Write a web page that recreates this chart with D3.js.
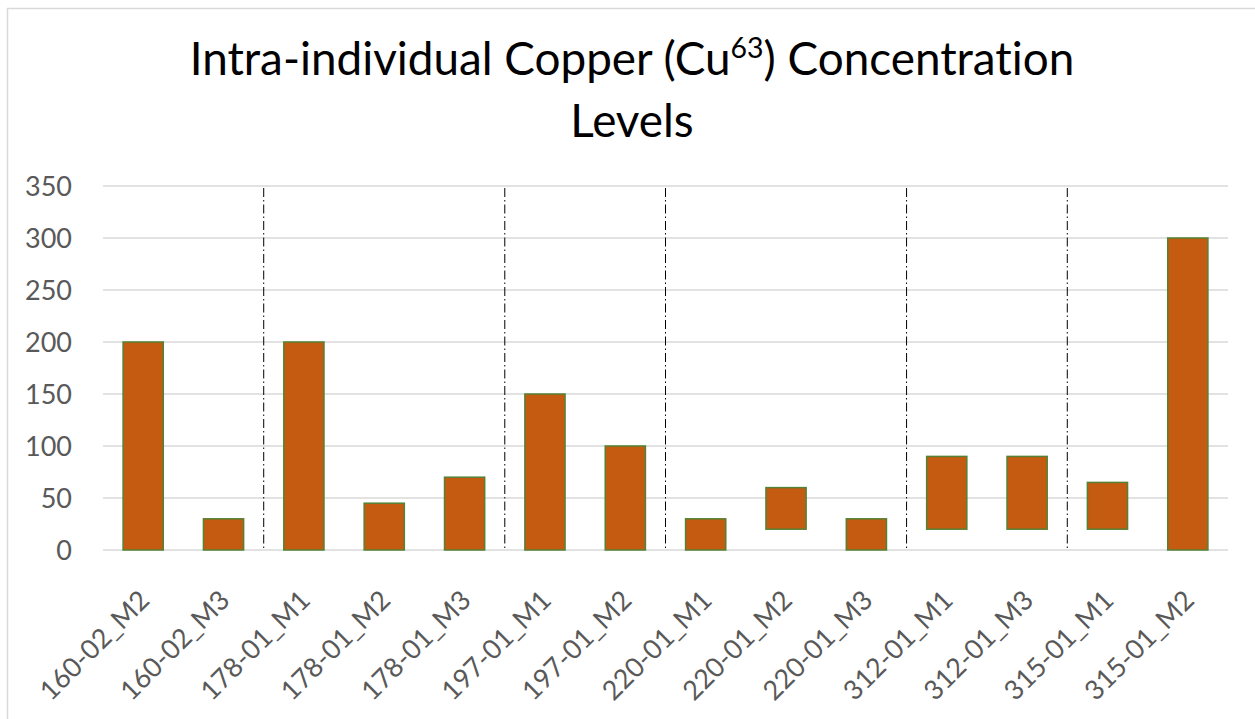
<!DOCTYPE html>
<html><head><meta charset="utf-8">
<script src="https://cdn.jsdelivr.net/npm/d3@7"></script>
<style>body{margin:0;background:#fff}svg{display:block}svg text, svg tspan{font-variant-ligatures:none;font-feature-settings:"liga" 0,"clig" 0,"dlig" 0,"calt" 0,"hlig" 0}</style>
</head><body>
<svg id="c" width="1255" height="719"></svg>
<script>
const categories = ["160-02_M2","160-02_M3","178-01_M1","178-01_M2","178-01_M3","197-01_M1","197-01_M2","220-01_M1","220-01_M2","220-01_M3","312-01_M1","312-01_M3","315-01_M1","315-01_M2"];
const highValues = [200,30,200,45,70,150,100,30,60,30,90,90,65,300];
const lowValues  = [0,0,0,0,0,0,0,0,20,0,20,20,20,0];
const groupStarts = ["178-01_M1","197-01_M1","220-01_M1","312-01_M1","315-01_M1"];
const yTicks = [0,50,100,150,200,250,300,350];
const titleLine1 = "Intra-individual Copper (Cu";
const titleSup = "63";
const titleLine1b = ") Concentration";
const titleLine2 = "Levels";

const svg = d3.select("#c");
const FONT = "Lato, 'Open Sans', sans-serif";
svg.append("rect").attr("width",1255).attr("height",719).attr("fill","#fff");
svg.append("rect").attr("x",7.5).attr("y",8.5).attr("width",1260).attr("height",720)
  .attr("fill","none").attr("stroke","#d9d9d9").attr("stroke-width",1.5);

const x = d3.scaleBand().domain(categories).range([103,1228]).paddingInner(0.5).paddingOuter(0.25);
const y = d3.scaleLinear().domain([0,350]).range([550,186]);

svg.append("g").selectAll("line").data(yTicks).join("line")
  .attr("x1",103).attr("x2",1228).attr("y1",d=>y(d)).attr("y2",d=>y(d))
  .attr("stroke","#d9d9d9").attr("stroke-width",1.5);

svg.append("g").selectAll("text").data(yTicks).join("text")
  .attr("x",72).attr("y",d=>y(d)).attr("dy","0.36em").attr("text-anchor","end")
  .attr("font-family",FONT).attr("font-size",27).attr("fill","#595959").text(d=>d);

const step = x.step();
svg.append("g").selectAll("line").data(groupStarts).join("line")
  .attr("x1",d=>x(d)-step*x.paddingInner()/2).attr("x2",d=>x(d)-step*x.paddingInner()/2)
  .attr("y1",y(350)+2).attr("y2",y(0)+1)
  .attr("stroke","#000").attr("stroke-width",1).attr("stroke-dasharray","9,3,1.5,3");

svg.append("g").selectAll("rect").data(categories).join("rect")
  .attr("x",d=>x(d)).attr("width",x.bandwidth())
  .attr("y",(d,i)=>y(highValues[i])).attr("height",(d,i)=>y(lowValues[i])-y(highValues[i]))
  .attr("fill","#C55A11").attr("stroke","#548235").attr("stroke-width",1.5);

svg.append("g").selectAll("text").data(categories).join("text")
  .attr("transform",d=>`translate(${x(d)+x.bandwidth()/2+1},595) rotate(-45)`)
  .attr("text-anchor","end").attr("dy","0.36em")
  .attr("font-family",FONT).attr("font-size",27).attr("fill","#595959").text(d=>d);

const t1 = svg.append("text").attr("x",632).attr("y",75).attr("text-anchor","middle")
  .attr("font-family",FONT).attr("font-size",44).attr("fill","#000");
t1.append("tspan").text(titleLine1);
t1.append("tspan").attr("font-size",28).attr("dy",-17).text(titleSup);
t1.append("tspan").attr("dy",17).text(titleLine1b);
const w = t1.node().getComputedTextLength();
const fs = 44*886/w;
t1.attr("font-size",fs);
t1.select("tspan:nth-child(2)").attr("font-size",fs*0.62).attr("dy",-fs*0.38);
t1.select("tspan:nth-child(3)").attr("dy",fs*0.38);
svg.append("text").attr("x",632).attr("y",137).attr("text-anchor","middle")
  .attr("font-family",FONT).attr("font-size",fs).attr("fill","#000").text(titleLine2);
</script>
</body></html>
